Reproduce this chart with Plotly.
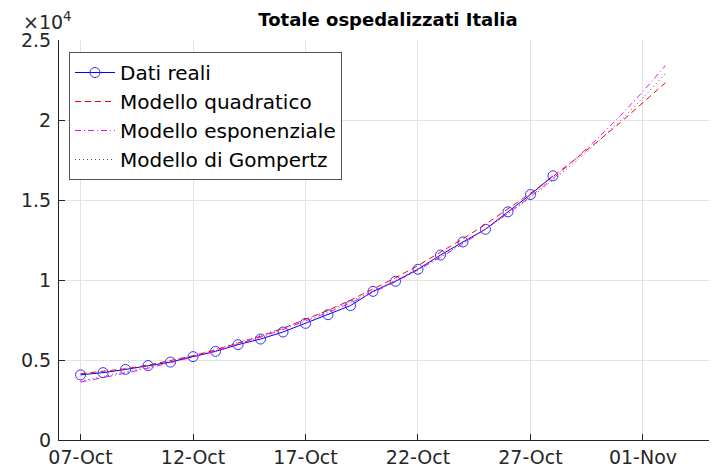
import plotly.graph_objects as go

# ---- data ----
data_dates = ["2020-10-%02d" % d for d in range(7, 29)]
dati_reali = [4070, 4210, 4410, 4650, 4870, 5210, 5540, 5960, 6310, 6750, 7290,
              7830, 8400, 9290, 9920, 10670, 11560, 12380, 13170, 14260, 15340, 16510]

model_dates = ["2020-10-%02d" % d for d in range(7, 32)] + ["2020-11-01", "2020-11-02"]
modello_quadratico = [4140, 4275, 4454, 4679, 4950, 5265, 5626, 6031, 6482, 6979, 7520,
                      8107, 8738, 9415, 10138, 10905, 11718, 12575, 13478, 14427, 15420,
                      16459, 17542, 18671, 19846, 21065, 22330]
modello_esponenziale = [3620, 3889, 4179, 4490, 4824, 5183, 5569, 5983, 6428, 6907, 7421,
                        7973, 8566, 9204, 9889, 10625, 11415, 12265, 13178, 14158, 15212,
                        16344, 17560, 18867, 20271, 21780, 23400]
modello_gompertz = [3680, 3956, 4251, 4568, 4908, 5272, 5663, 6081, 6529, 7009, 7523,
                    8074, 8664, 9296, 9974, 10698, 11473, 12302, 13189, 14138, 15154,
                    16239, 17399, 18640, 19966, 21384, 22899]

x_tickvals = ["2020-10-07", "2020-10-12", "2020-10-17", "2020-10-22", "2020-10-27", "2020-11-01"]
y_tickvals = [0, 5000, 10000, 15000, 20000, 25000]
y_ticktext = ["0", "0.5", "1", "1.5", "2", "2.5"]

FONT = "DejaVu Sans"

fig = go.Figure()
fig.add_trace(go.Scatter(
    x=data_dates, y=dati_reali, mode="lines+markers", name="Dati reali",
    line=dict(color="#0000ff", width=1),
    marker=dict(symbol="circle-open", size=10, color="#3333ff", line=dict(width=1)),
    legendgroup="a"))
fig.add_trace(go.Scatter(
    x=model_dates, y=modello_quadratico, mode="lines", name="Modello quadratico",
    line=dict(color="#ff0000", width=1, dash="6px,4px"), legendgroup="b"))
fig.add_trace(go.Scatter(
    x=model_dates, y=modello_esponenziale, mode="lines", name="Modello esponenziale",
    line=dict(color="#ff00ff", width=1, dash="6px,3px,1px,3px"), legendgroup="c"))
fig.add_trace(go.Scatter(
    x=model_dates, y=modello_gompertz, mode="lines", name="Modello di Gompertz",
    line=dict(color="#555555", width=1, dash="1px,3px"), legendgroup="d"))

# the page body adds an 8 px offset, so margins are reduced by 8 px
fig.update_layout(
    width=717, height=475,
    margin=dict(l=51, r=8, t=32, b=43, autoexpand=False),
    paper_bgcolor="white", plot_bgcolor="white",
    font=dict(family=FONT, size=19, color="#262626"),
    title=dict(text="<b>Totale ospedalizzati Italia</b>", x=0.5, xref="paper",
               xanchor="center", y=1 - 12 / 475, yref="container", yanchor="middle",
               font=dict(family=FONT, size=18, color="black")),
    showlegend=True,
    legend=dict(x=(69 - 59) / 658, y=1 - (52 - 40) / 400, xanchor="left", yanchor="top",
                bgcolor="white", bordercolor="#555555", borderwidth=1,
                font=dict(family=FONT, size=20, color="black"),
                tracegroupgap=0, itemwidth=40),
    xaxis=dict(range=["2020-10-06 01:00", "2020-11-04 07:00"], automargin=False,
               tickvals=x_tickvals, tickformat="%d-%b",
               showgrid=True, gridcolor="#e3e3e3", gridwidth=1,
               showline=True, linecolor="#262626", linewidth=1,
               ticks="inside", ticklen=6, tickcolor="#262626",
               zeroline=False),
    yaxis=dict(range=[0, 25000], tickvals=y_tickvals, ticktext=y_ticktext, automargin=False,
               showgrid=True, gridcolor="#e3e3e3", gridwidth=1,
               showline=True, linecolor="#262626", linewidth=1,
               ticks="inside", ticklen=6, tickcolor="#262626",
               zeroline=False, ticklabelstandoff=3),
    annotations=[dict(text="×10<sup>4</sup>", xref="paper", yref="paper",
                      x=(21 - 59) / 658, y=1 + 5 / 400, xanchor="left", yanchor="bottom",
                      showarrow=False, font=dict(family=FONT, size=19, color="#262626"))],
)

fig.write_html("out.html")
